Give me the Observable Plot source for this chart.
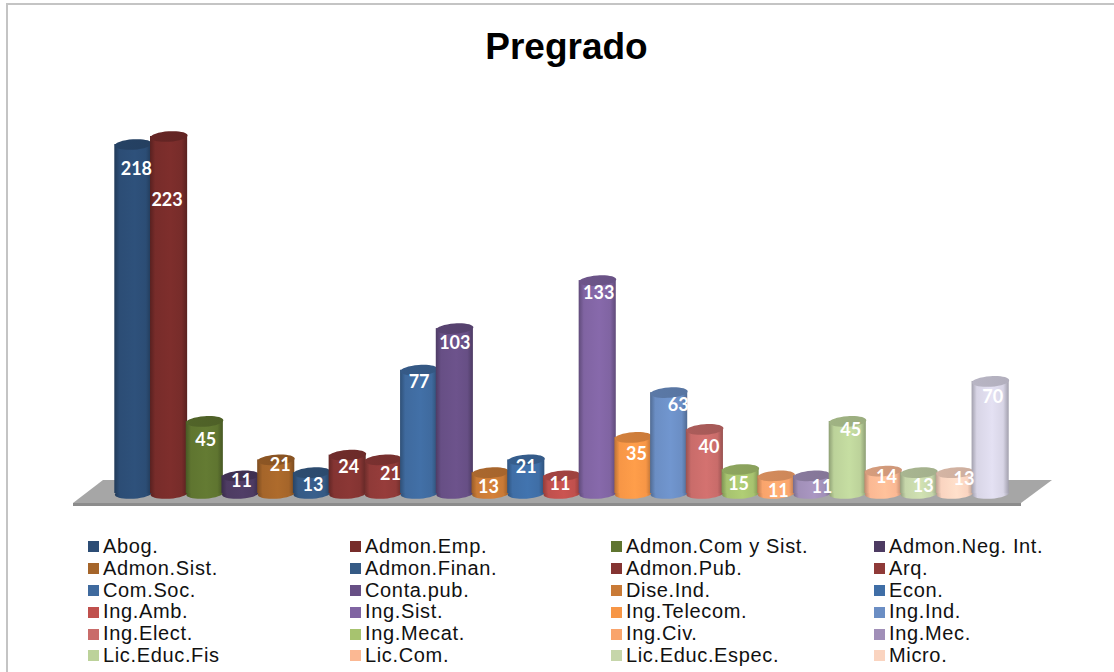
<!DOCTYPE html>
<html>
<head>
<meta charset="utf-8">
<script src="https://cdn.jsdelivr.net/npm/d3@7"></script>
<script src="https://cdn.jsdelivr.net/npm/@observablehq/plot@0.6"></script>
<style>
  html, body { margin: 0; padding: 0; background: #fff; overflow: hidden; }
  #frame { position: relative; width: 1114px; height: 672px; overflow: hidden; }
  #border { position: absolute; left: 6px; top: 3px; width: 1200px; height: 800px; box-sizing: border-box; border: 2px solid #c4c4c4; }
  #title { position: absolute; left: 0; top: 0; width: 1114px; text-align: center; font: bold 37px "Liberation Sans", Arial, sans-serif; color: #000; padding-top: 26px; text-indent: 19px; }
  #chart { position: absolute; left: 0; top: 93px; }
  #legend { position: absolute; left: 88px; top: 536px; display: grid; grid-template-columns: 262px 261px 263px 200px; font: 20px/21.8px "Liberation Sans", Arial, sans-serif; letter-spacing: .65px; color: #111; }
  #legend span { display: flex; align-items: center; white-space: nowrap; }
  #legend i { display: inline-block; width: 11px; height: 11px; margin-right: 4px; flex: none; }
</style>
</head>
<body>
<div id="frame">
  <div id="border"></div>
  <div id="title">Pregrado</div>
  <div id="chart"></div>
  <div id="legend"></div>
</div>
<script>
const programs = ["Abog.","Admon.Emp.","Admon.Com y Sist.","Admon.Neg. Int.",
  "Admon.Sist.","Admon.Finan.","Admon.Pub.","Arq.",
  "Com.Soc.","Conta.pub.","Dise.Ind.","Econ.",
  "Ing.Amb.","Ing.Sist.","Ing.Telecom.","Ing.Ind.",
  "Ing.Elect.","Ing.Mecat.","Ing.Civ.","Ing.Mec.",
  "Lic.Educ.Fis","Lic.Com.","Lic.Educ.Espec.","Micro."];
const values = [218,223,45,11,21,13,24,21,77,103,13,21,11,133,35,63,40,15,11,11,45,14,13,13,70];
const colors = ["#2c4d75","#772c2a","#5f7530","#4d3b62","#a5652a","#355a85","#843432","#8f3a38",
  "#3f6a9e","#674f85","#c97a36","#3f6ea6","#c0504d","#8064a2","#f79646","#6b8ec4",
  "#c96c6a","#a7c36f","#f9a46c","#a18fb8","#bcd29a","#fbb893","#c6d6aa","#fad4c0","#d8d5e6"];
const labelDx = [3,-2,1,1,4,1,1,7,0,0,-2,0,-2,1,3,9,4,-2,2,10,3,3,4,9,2];
const labelY = [169,200,440,481,465,485,467,474,382,343,487,467,484,293,454,405,447,484,491,487,430,477,486,479,397];

const data = values.map((value, i) => ({i, value, name: programs[i] ?? "", color: colors[i]}));
const gid = i => `url(#cyl${i})`;
const topId = i => `url(#cap${i})`;

const W = 1114, H = 437, MT = 43, MB = 37, ML = 115, MR = 106;
const frameScales = {
  width: W, height: H,
  marginTop: MT, marginBottom: MB, marginLeft: ML, marginRight: MR,
  x: {type: "band", domain: d3.range(values.length), padding: 0, round: false, axis: null},
  y: {domain: [0, 223], axis: null}
};

// An elliptical symbol for the ends of the cylinders.
const ellipse = {
  draw(ctx, size) {
    const rx = Math.sqrt(size / Math.PI), ry = rx * 0.28, k = 0.5523;
    ctx.moveTo(-rx, 0);
    ctx.bezierCurveTo(-rx, -ry * k, -rx * k, -ry, 0, -ry);
    ctx.bezierCurveTo(rx * k, -ry, rx, -ry * k, rx, 0);
    ctx.bezierCurveTo(rx, ry * k, rx * k, ry, 0, ry);
    ctx.bezierCurveTo(-rx * k, ry, -rx, ry * k, -rx, 0);
    ctx.closePath();
  }
};

const floorMark = (index, {x, y}) => {
  const base = y(0), left = x(0), right = x(24) + x.bandwidth();
  const top = d3.path();
  top.moveTo(left - 42, base + 10); top.lineTo(left - 12, base - 13);
  top.lineTo(right + 44, base - 13); top.lineTo(right + 13, base + 10); top.closePath();
  const edge = d3.path();
  edge.rect(left - 42, base + 10, right + 13 - left + 42, 3);
  const g = d3.create("svg:g");
  g.append("path").attr("d", top).attr("fill", "#a6a6a6");
  g.append("path").attr("d", edge).attr("fill", "#8c8c8c");
  return g.node();
};

const chart = Plot.plot({
  ...frameScales,
  marks: [
    floorMark,
    ...data.flatMap((d) => {
      const shared = {x: "i", r: 18.6, rotate: -4, symbol: ellipse};
      return [
        Plot.dot([d], {...shared, y: () => 0, fill: gid(d.i), stroke: "none"}),
        Plot.barY([d], {x: "i", y: "value", fill: gid(d.i), insetLeft: -0.7, insetRight: -0.7}),
        Plot.dot([d], {...shared, y: "value", fill: topId(d.i), stroke: "none"})
      ];
    })
  ],
  style: {background: "transparent", overflow: "visible"}
});

// Gradients that give the bars their round look.
const defs = d3.select(chart).insert("defs", ":first-child");
data.forEach(({i, color}) => {
  const c = d3.rgb(color), dark = c.darker(0.8), light = c.brighter(0.15);
  const g = defs.append("linearGradient").attr("id", `cyl${i}`);
  [[0, dark], [0.14, c], [0.55, light], [0.85, c], [1, dark]].forEach(([o, col]) =>
    g.append("stop").attr("offset", o).attr("stop-color", col));
  const t = defs.append("linearGradient").attr("id", `cap${i}`);
  t.append("stop").attr("offset", 0).attr("stop-color", c.darker(0.45));
  t.append("stop").attr("offset", 1).attr("stop-color", c.darker(0.55));
});

// Labels are drawn last, on top of every bar.
const labels = Plot.plot({
  ...frameScales,
  marks: data.map((d) => Plot.text([d], {
    x: "i", y: "value", text: "value",
    dx: labelDx[d.i],
    dy: (labelY[d.i] - 93) - (H - MB - d.value * (H - MT - MB) / 223),
    fill: "#fff", fontSize: 18, fontWeight: "bold", fontFamily: "Lato, 'Open Sans', sans-serif"
  })),
  style: {background: "transparent", overflow: "visible"}
});
labels.style.position = "absolute";
labels.style.left = "0";
labels.style.top = "0";

document.getElementById("chart").append(chart, labels);

const legend = d3.select("#legend");
programs.forEach((name, i) => {
  const s = legend.append("span");
  s.append("i").style("background", colors[i]);
  s.append("b").style("font-weight", "normal").text(name);
});
</script>
</body>
</html>
